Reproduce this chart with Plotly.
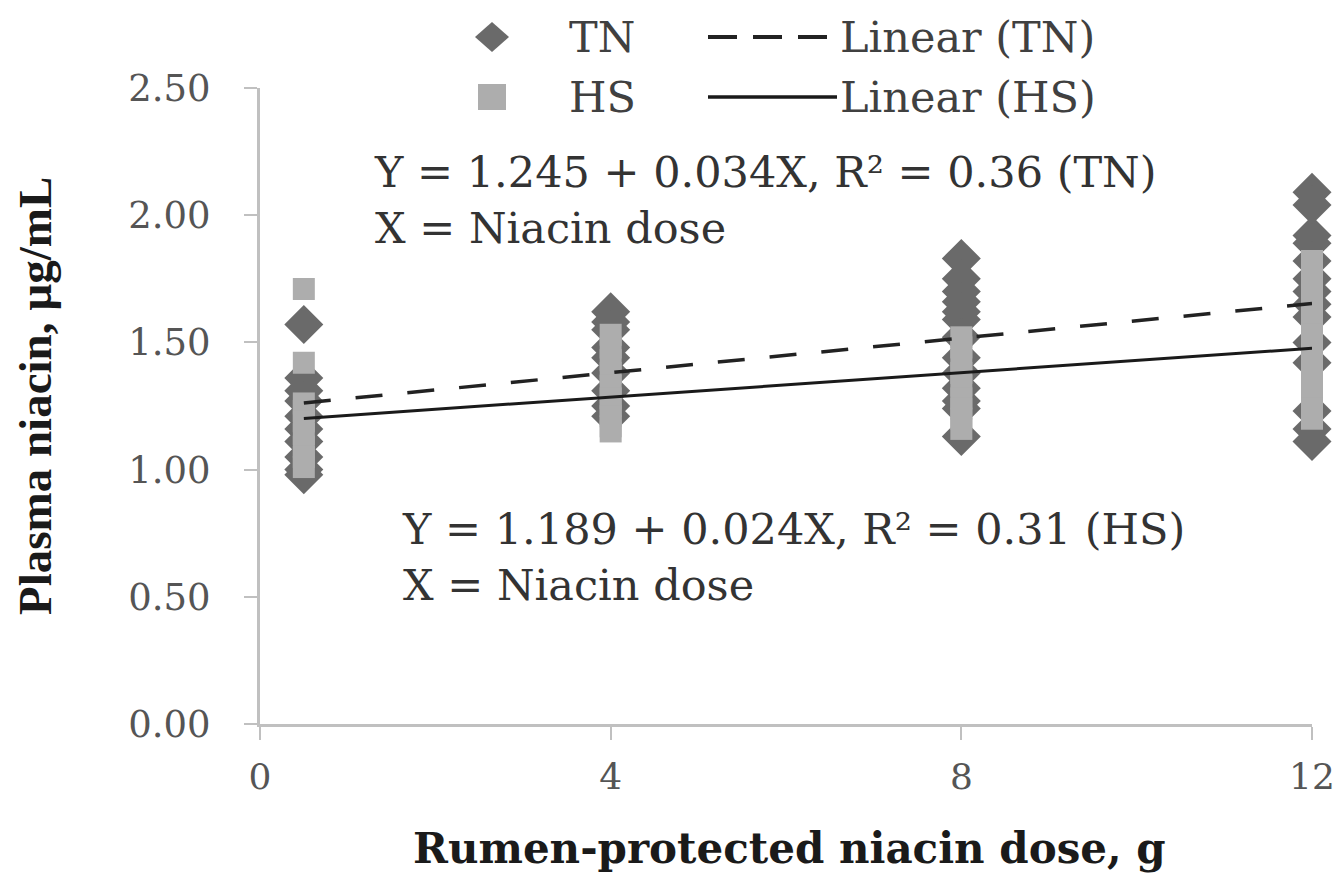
import plotly.graph_objects as go

# ---------------- data ----------------
dose_levels = [0.5, 4, 8, 12]

tn_dose_0_5 = [1.57, 1.36, 1.31, 1.27, 1.21, 1.16, 1.11, 1.05, 1.00, 0.98]
tn_dose_4 = [1.62, 1.58, 1.55, 1.48, 1.44, 1.38, 1.31, 1.25, 1.21]
tn_dose_8 = [1.83, 1.75, 1.70, 1.66, 1.62, 1.59, 1.52, 1.44, 1.38, 1.32, 1.27, 1.24, 1.13]
tn_dose_12 = [2.09, 2.04, 1.92, 1.89, 1.82, 1.75, 1.70, 1.65, 1.60, 1.50, 1.42, 1.23, 1.16, 1.11]

hs_dose_0_5 = [1.71, 1.42, 1.26, 1.23, 1.19, 1.14, 1.09, 1.05, 1.01]
hs_dose_4 = [1.53, 1.48, 1.43, 1.38, 1.33, 1.28, 1.25, 1.21, 1.17, 1.15]
hs_dose_8 = [1.52, 1.48, 1.43, 1.38, 1.33, 1.28, 1.24, 1.20, 1.16]
hs_dose_12 = [1.82, 1.78, 1.73, 1.68, 1.63, 1.58, 1.53, 1.48, 1.43, 1.38, 1.35, 1.27, 1.24, 1.20]

tn_intercept, tn_slope = 1.245, 0.034
hs_intercept, hs_slope = 1.189, 0.024

y_ticks = [0.0, 0.5, 1.0, 1.5, 2.0, 2.5]
x_ticks = [0, 4, 8, 12]

# ---------------- assemble ----------------
tn_groups = [tn_dose_0_5, tn_dose_4, tn_dose_8, tn_dose_12]
hs_groups = [hs_dose_0_5, hs_dose_4, hs_dose_8, hs_dose_12]
tn_x, tn_y, hs_x, hs_y = [], [], [], []
for d, g in zip(dose_levels, tn_groups):
    tn_x += [d] * len(g)
    tn_y += g
for d, g in zip(dose_levels, hs_groups):
    hs_x += [d] * len(g)
    hs_y += g

x_fit = [dose_levels[0], dose_levels[-1]]
tn_fit = [tn_intercept + tn_slope * v for v in x_fit]
hs_fit = [hs_intercept + hs_slope * v for v in x_fit]

TN_COL = "#6a6a6a"
HS_COL = "#adadad"
SERIF = "DejaVu Serif"

fig = go.Figure()
fig.add_trace(go.Scatter(x=tn_x, y=tn_y, mode="markers", name="TN",
                         marker=dict(symbol="diamond", size=30, color=TN_COL, line=dict(width=0)),
                         cliponaxis=False, showlegend=False))
fig.add_trace(go.Scatter(x=hs_x, y=hs_y, mode="markers", name="HS",
                         marker=dict(symbol="square", size=22, color=HS_COL, line=dict(width=0)),
                         cliponaxis=False, showlegend=False))
fig.add_trace(go.Scatter(x=x_fit, y=tn_fit, mode="lines", name="Linear (TN)",
                         line=dict(color="#222222", width=3.5, dash="27px,25px"),
                         showlegend=False))
fig.add_trace(go.Scatter(x=x_fit, y=hs_fit, mode="lines", name="Linear (HS)",
                         line=dict(color="#1a1a1a", width=3),
                         showlegend=False))

L, R, T, B = 260, 1312, 88, 724
W, H = R - L, B - T


def px(x):
    return (x - L) / W


def py(y):
    return (B - y) / H


shapes = []
annotations = []

# legend (drawn manually to mimic the 2x2 layout)
row1, row2 = 37, 97
shapes.append(dict(type="path", xref="paper", yref="paper", xsizemode="pixel", ysizemode="pixel",
                   xanchor=px(492), yanchor=py(row1), path="M -17,0 L 0,15 L 17,0 L 0,-15 Z",
                   fillcolor=TN_COL, line=dict(width=0)))
shapes.append(dict(type="path", xref="paper", yref="paper", xsizemode="pixel", ysizemode="pixel",
                   xanchor=px(492), yanchor=py(row2), path="M -14,-13 L 14,-13 L 14,13 L -14,13 Z",
                   fillcolor=HS_COL, line=dict(width=0)))
shapes.append(dict(type="line", xref="paper", yref="paper", x0=px(708), x1=px(837), y0=py(row1), y1=py(row1),
                   line=dict(color="#222222", width=4, dash="29px,16px")))
shapes.append(dict(type="line", xref="paper", yref="paper", x0=px(708), x1=px(837), y0=py(row2), y1=py(row2),
                   line=dict(color="#1a1a1a", width=3.5)))

leg_font = dict(family=SERIF, size=43, color="#404040")
for txt, x, y in [("TN", 567, row1), ("HS", 567, row2), ("Linear (TN)", 838, row1), ("Linear (HS)", 838, row2)]:
    annotations.append(dict(text=txt, x=px(x), y=py(y), xref="paper", yref="paper", xanchor="left",
                            yanchor="middle", showarrow=False, font=leg_font))

eq_font = dict(family=SERIF, size=43, color="#333333")
annotations.append(dict(text="Y = 1.245 + 0.034X, R² = 0.36 (TN)<br>X = Niacin dose", x=px(372), y=py(200),
                        xref="paper", yref="paper", xanchor="left", yanchor="middle", align="left",
                        showarrow=False, font=eq_font))
annotations.append(dict(text="Y = 1.189 + 0.024X, R² = 0.31 (HS)<br>X = Niacin dose", x=px(400), y=py(557),
                        xref="paper", yref="paper", xanchor="left", yanchor="middle", align="left",
                        showarrow=False, font=eq_font))

annotations.append(dict(text="<b>Plasma niacin, µg/mL</b>", x=px(35), y=py(396), xref="paper", yref="paper",
                        xanchor="center", yanchor="middle", textangle=-90, showarrow=False,
                        font=dict(family="Liberation Serif", size=47, color="#1a1a1a")))
annotations.append(dict(text="<b>Rumen-protected niacin dose, g</b>", x=px(789), y=py(848), xref="paper",
                        yref="paper", xanchor="center", yanchor="middle", showarrow=False,
                        font=dict(family=SERIF, size=42, color="#1a1a1a")))

fig.update_layout(
    width=1338, height=875,
    margin=dict(l=L, r=1338 - R, t=T, b=875 - B, autoexpand=False),
    plot_bgcolor="white", paper_bgcolor="white",
    shapes=shapes, annotations=annotations,
    xaxis=dict(range=[0, 12], tickvals=x_ticks, ticktext=[str(v) for v in x_ticks],
               showline=True, linecolor="#c0c0c0", linewidth=3, ticks="outside", ticklen=13,
               tickwidth=2, tickcolor="#c0c0c0", showgrid=False, zeroline=False,
               tickfont=dict(family=SERIF, size=36, color="#555555"), ticklabelstandoff=6),
    yaxis=dict(range=[0, 2.5], tickvals=y_ticks, ticktext=[f"{v:.2f}" for v in y_ticks],
               showline=True, linecolor="#c0c0c0", linewidth=3, ticks="outside", ticklen=13,
               tickwidth=2, tickcolor="#c0c0c0", showgrid=False, zeroline=False,
               tickfont=dict(family=SERIF, size=37, color="#555555"), ticklabelstandoff=26),
)

fig.write_html("out.html")
